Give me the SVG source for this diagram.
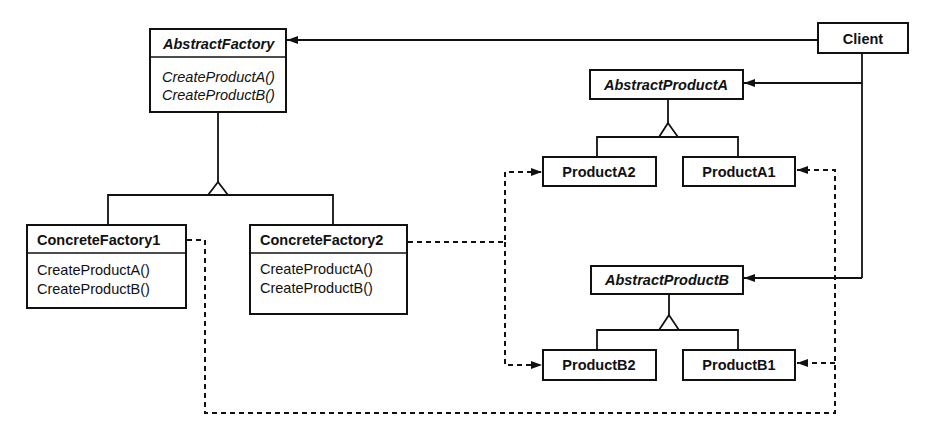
<svg xmlns="http://www.w3.org/2000/svg" width="941" height="431" viewBox="0 0 941 431">
  <style>
    .box { fill: #fff; stroke: #111; stroke-width: 2; }
    .div { stroke: #111; stroke-width: 1.6; }
    .line { fill: none; stroke: #111; stroke-width: 1.8; }
    .dash { fill: none; stroke: #111; stroke-width: 2; stroke-dasharray: 5 4; }
    .tri { fill: #fff; stroke: #111; stroke-width: 1.8; stroke-linejoin: miter; }
    text { font-family: "Liberation Sans", Arial, sans-serif; font-size: 14.5px; fill: #111; }
    .b { font-weight: bold; }
    .i { font-style: italic; }
    .c { text-anchor: middle; }
  </style>
  <defs>
    <marker id="arrow" markerUnits="userSpaceOnUse" markerWidth="11" markerHeight="8" refX="11" refY="4" orient="auto">
      <path d="M0,0 L11,4 L0,8 Z" fill="#111"/>
    </marker>
  </defs>
  <rect width="941" height="431" fill="#fff"/>

  <g id="connectors">
    <!-- Client associations -->
    <line class="line" x1="818" y1="40" x2="287" y2="40" marker-end="url(#arrow)"/>
    <line class="line" x1="862" y1="53" x2="862" y2="278"/>
    <line class="line" x1="862" y1="83" x2="744" y2="83" marker-end="url(#arrow)"/>
    <line class="line" x1="862" y1="278" x2="744" y2="278" marker-end="url(#arrow)"/>

    <!-- factory inheritance -->
    <line class="line" x1="218" y1="112" x2="218" y2="182"/>
    <polyline class="line" points="108,225 108,195 333,195 333,225"/>
    <polygon class="tri" points="218,182 208,195 228,195"/>

    <!-- product A inheritance -->
    <line class="line" x1="668" y1="99" x2="668" y2="123"/>
    <polyline class="line" points="597,157 597,137 738,137 738,157"/>
    <polygon class="tri" points="668,123 659,137 678,137"/>

    <!-- product B inheritance -->
    <line class="line" x1="669" y1="293" x2="669" y2="315"/>
    <polyline class="line" points="597,350 597,330 738,330 738,350"/>
    <polygon class="tri" points="669,315 659,330 679,330"/>

    <!-- ConcreteFactory1 creates ProductA1 / ProductB1 -->
    <path class="dash" d="M187,240 H205 V413 H835 V170 H797" marker-end="url(#arrow)"/>
    <path class="dash" d="M835,363 H797" marker-end="url(#arrow)"/>

    <!-- ConcreteFactory2 creates ProductA2 / ProductB2 -->
    <path class="dash" d="M408,242 H505 V172 H542" marker-end="url(#arrow)"/>
    <path class="dash" d="M505,242 V365 H542" marker-end="url(#arrow)"/>
  </g>

  <g id="AbstractFactory">
    <rect class="box" x="150" y="29" width="136" height="83"/>
    <line class="div" x1="150" y1="57" x2="286" y2="57"/>
    <text class="b i" x="163" y="49">AbstractFactory</text>
    <text class="i" x="162" y="82">CreateProductA()</text>
    <text class="i" x="162" y="100">CreateProductB()</text>
  </g>

  <g id="Client">
    <rect class="box" x="818" y="23" width="90" height="30"/>
    <text class="b c" x="863" y="44">Client</text>
  </g>

  <g id="ConcreteFactory1">
    <rect class="box" x="27" y="225" width="159" height="83"/>
    <line class="div" x1="27" y1="253" x2="186" y2="253"/>
    <text class="b" x="37" y="245">ConcreteFactory1</text>
    <text x="37" y="275">CreateProductA()</text>
    <text x="37" y="294">CreateProductB()</text>
  </g>

  <g id="ConcreteFactory2">
    <rect class="box" x="250" y="225" width="157" height="89"/>
    <line class="div" x1="250" y1="253" x2="407" y2="253"/>
    <text class="b" x="260" y="245">ConcreteFactory2</text>
    <text x="260" y="274">CreateProductA()</text>
    <text x="260" y="293">CreateProductB()</text>
  </g>

  <g id="AbstractProductA">
    <rect class="box" x="590" y="70" width="153" height="29"/>
    <text class="b i c" x="666" y="90">AbstractProductA</text>
  </g>

  <g id="ProductA2">
    <rect class="box" x="543" y="157" width="113" height="29"/>
    <text class="b c" x="599" y="177">ProductA2</text>
  </g>

  <g id="ProductA1">
    <rect class="box" x="683" y="157" width="112" height="29"/>
    <text class="b c" x="739" y="177">ProductA1</text>
  </g>

  <g id="AbstractProductB">
    <rect class="box" x="591" y="266" width="152" height="28"/>
    <text class="b i c" x="667" y="285">AbstractProductB</text>
  </g>

  <g id="ProductB2">
    <rect class="box" x="543" y="350" width="113" height="30"/>
    <text class="b c" x="599" y="370">ProductB2</text>
  </g>

  <g id="ProductB1">
    <rect class="box" x="683" y="350" width="112" height="30"/>
    <text class="b c" x="739" y="370">ProductB1</text>
  </g>
</svg>
